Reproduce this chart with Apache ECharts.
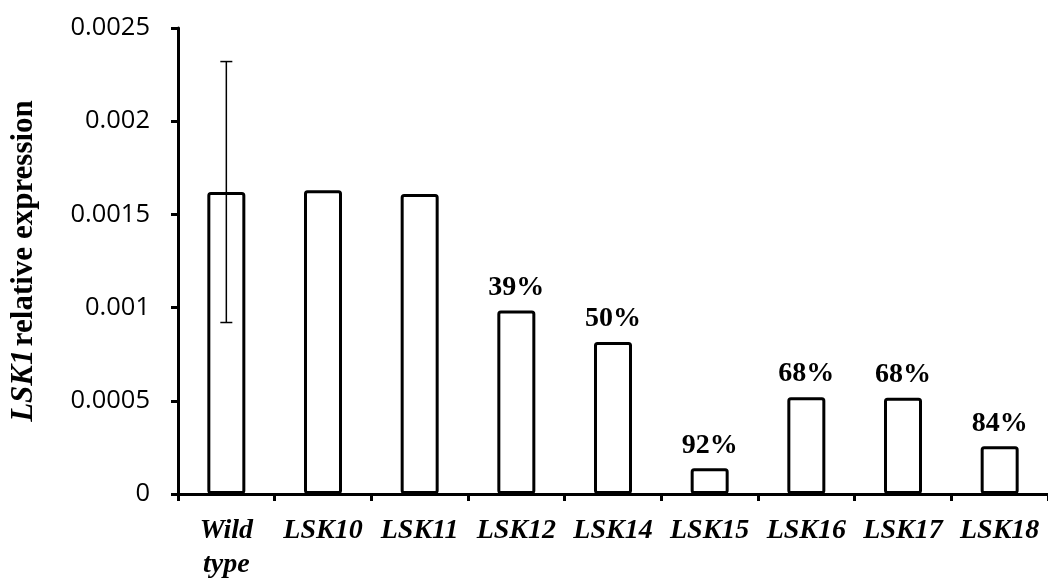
<!DOCTYPE html>
<html>
<head>
<meta charset="utf-8">
<script src="https://cdn.jsdelivr.net/npm/echarts@6/dist/echarts.min.js"></script>
<style>html,body{margin:0;padding:0;background:#fff}#c{width:1048px;height:582px}</style>
</head>
<body>
<div id="c"></div>
<script>
var categories = ['Wild\ntype', 'LSK10', 'LSK11', 'LSK12', 'LSK14', 'LSK15', 'LSK16', 'LSK17', 'LSK18'];
var values = [0.00162, 0.00163, 0.00161, 0.000985, 0.000815, 0.000138, 0.000519, 0.000517, 0.000256];
var errors = [0.0007, null, null, null, null, null, null, null, null];
var percentLabels = ['', '', '', '39%', '50%', '92%', '68%', '68%', '84%'];
var yTicks = ['0', '0.0005', '0.001', '0.0015', '0.002', '0.0025'];

var chart = echarts.init(document.getElementById('c'));
var errData = [];
for (var i = 0; i < values.length; i++) {
  if (errors[i] != null) errData.push([i, values[i] - errors[i], values[i] + errors[i]]);
}
chart.setOption({
  animation: false,
  grid: { left: 163, top: 28, width: 895, height: 472, containLabel: false },
  xAxis: {
    type: 'category',
    data: categories,
    axisLine: { lineStyle: { color: '#000', width: 3 } },
    axisTick: { show: true, length: 7, lineStyle: { color: '#000', width: 3 } },
    axisLabel: {
      interval: 0, margin: 20, color: '#000',
      fontFamily: 'Liberation Serif', fontWeight: 'bold', fontStyle: 'italic',
      fontSize: 28, lineHeight: 34, verticalAlign: 'top'
    }
  },
  yAxis: {
    type: 'value', min: 0, max: 0.0025, interval: 0.0005,
    name: '{i|LSK1} {b|relative expression}',
    nameLocation: 'middle', nameGap: 139, nameRotate: 90,
    nameTextStyle: {
      rich: {
        i: { fontFamily: 'Liberation Serif', fontWeight: 'bold', fontStyle: 'italic', fontSize: 31, color: '#000' },
        b: { fontFamily: 'Liberation Serif', fontWeight: 'bold', fontSize: 31, color: '#000' }
      }
    },
    splitLine: { show: false },
    axisLine: { show: true, lineStyle: { color: '#000', width: 3 } },
    axisTick: { show: true, length: 7, lineStyle: { color: '#000', width: 3 } },
    axisLabel: {
      margin: 28, color: '#000', fontFamily: 'Open Sans', fontSize: 25.5,
      formatter: function (v, idx) { return yTicks[idx]; }
    }
  },
  series: [
    {
      type: 'bar', data: values, barWidth: 38,
      itemStyle: { color: '#fff', borderColor: '#000', borderWidth: 3, borderRadius: 2 },
      label: {
        show: true, position: 'top', distance: 9, color: '#000',
        fontFamily: 'Liberation Serif', fontWeight: 'bold', fontSize: 28,
        formatter: function (p) { return percentLabels[p.dataIndex]; }
      }
    },
    {
      type: 'custom', data: errData, z: 10,
      renderItem: function (params, api) {
        var x = api.value(0);
        var lo = api.coord([x, api.value(1)]);
        var hi = api.coord([x, api.value(2)]);
        var hw = 6;
        var st = { stroke: '#000', lineWidth: 1.5 };
        return {
          type: 'group', children: [
            { type: 'line', shape: { x1: lo[0], y1: lo[1], x2: hi[0], y2: hi[1] }, style: st },
            { type: 'line', shape: { x1: lo[0] - hw, y1: lo[1], x2: lo[0] + hw, y2: lo[1] }, style: st },
            { type: 'line', shape: { x1: hi[0] - hw, y1: hi[1], x2: hi[0] + hw, y2: hi[1] }, style: st }
          ]
        };
      }
    }
  ]
});
</script>
</body>
</html>
